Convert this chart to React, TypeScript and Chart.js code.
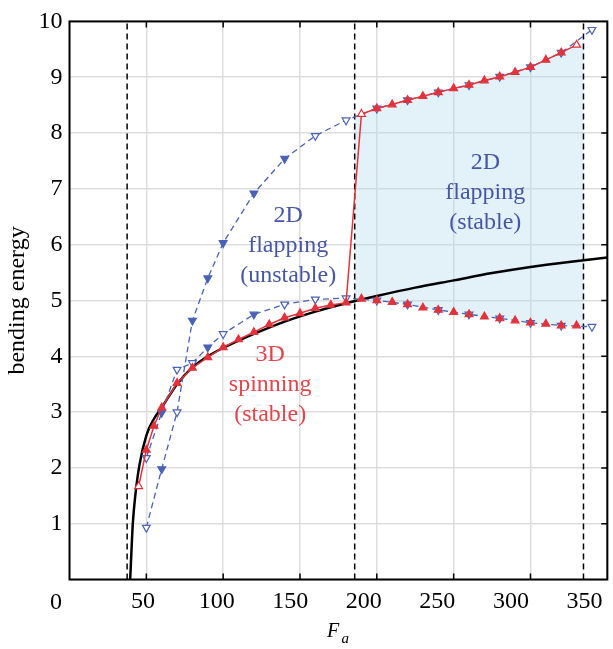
import React, { useEffect, useRef } from 'react';
import { Chart, registerables } from 'chart.js';

Chart.register(...registerables);

// ---- data (F_a on the data axis, bending energy) ----
const thresholdF = [37.5, 185.6, 334.5];

const blackF = [39.5, 40.3, 41.2, 42.8, 45.5, 50, 55, 60, 70, 80, 90, 100, 110, 120, 140, 160, 180, 200, 225, 250, 275, 300, 325, 350];
const blackE = [0, 0.5, 1.0, 1.5, 2.05, 2.58, 2.88, 3.08, 3.5, 3.8, 4.0, 4.15, 4.28, 4.4, 4.62, 4.8, 4.95, 5.08, 5.23, 5.36, 5.49, 5.6, 5.69, 5.77];

const spinF = [45, 50, 55, 60, 70, 80, 90, 100, 110, 120, 130, 140, 150, 160, 170, 180];
const spinE = [1.67, 2.32, 2.75, 3.08, 3.52, 3.79, 3.98, 4.16, 4.3, 4.43, 4.57, 4.69, 4.77, 4.86, 4.92, 4.96];
const spinOpen = [1, 0, 0, 0, 0, 0, 0, 0, 0, 0, 0, 0, 0, 0, 0, 0];

const stableF = [190, 200, 210, 220, 230, 240, 250, 260, 270, 280, 290, 300, 310, 320, 330];
const stableUpperE = [8.34, 8.44, 8.51, 8.59, 8.66, 8.73, 8.8, 8.86, 8.94, 9.01, 9.09, 9.18, 9.31, 9.44, 9.58];
const stableUpperOpen = [1, 0, 0, 0, 0, 0, 0, 0, 0, 0, 0, 0, 0, 0, 1];
const stableLowerE = [5.03, 5.0, 4.97, 4.93, 4.87, 4.83, 4.79, 4.75, 4.71, 4.68, 4.64, 4.6, 4.58, 4.55, 4.55];

const unstableF = [50, 60, 70, 80, 90, 100, 120, 140, 160, 180, 200, 220, 240, 260, 280, 300, 320, 340];
const unstableUpperE = [0.93, 1.98, 3.0, 4.64, 5.4, 6.03, 6.92, 7.54, 7.95, 8.23, 8.44, 8.59, 8.73, 8.86, 9.01, 9.18, 9.44, 9.85];
const unstableUpperOpen = [1, 0, 1, 0, 0, 0, 0, 0, 1, 1, 1, 1, 1, 1, 1, 1, 1, 1];
const unstableLowerE = [2.18, 2.99, 3.76, 3.88, 4.16, 4.4, 4.75, 4.93, 5.02, 5.04, 5.0, 4.93, 4.83, 4.75, 4.68, 4.6, 4.55, 4.53];
const unstableLowerOpen = [1, 0, 1, 1, 0, 1, 0, 1, 1, 1, 1, 1, 1, 1, 1, 1, 1, 1];

const shadeTopF = [185.6, 190, 200, 210, 220, 230, 240, 250, 260, 270, 280, 290, 300, 310, 320, 330, 334.5];
const shadeTopE = [8.3, 8.34, 8.44, 8.51, 8.59, 8.66, 8.73, 8.8, 8.86, 8.94, 9.01, 9.09, 9.18, 9.31, 9.44, 9.58, 9.62];
const shadeBottomF = [334.5, 330, 320, 310, 300, 290, 280, 270, 260, 250, 240, 230, 220, 210, 200, 190, 185.6];
const shadeBottomE = [4.54, 4.55, 4.55, 4.58, 4.6, 4.64, 4.68, 4.71, 4.75, 4.79, 4.83, 4.87, 4.93, 4.97, 5.0, 5.03, 5.03];

const xTickLabels = [0, 50, 100, 150, 200, 250, 300, 350];
const yTickLabels = [1, 2, 3, 4, 5, 6, 7, 8, 9, 10];

const annotations = [
  { lines: ['2D', 'flapping', '(unstable)'], color: '#4657a6', f: 142.3, e: 6.4 },
  { lines: ['3D', 'spinning', '(stable)'], color: '#e2454b', f: 130.6, e: 3.91 },
  { lines: ['2D', 'flapping', '(stable)'], color: '#4657a6', f: 270.6, e: 7.35 },
];

const RED = '#e3323a';
const BLUE = '#4a62b5';
const SERIF = '"Liberation Serif", "Times New Roman", serif';

const pts = (xs: number[], ys: number[]) => xs.map((x, i) => ({ x, y: ys[i] }));
const fills = (open: number[], c: string) => open.map((o) => (o ? '#ffffff' : c));

const decor = {
  id: 'decor',
  afterDraw(chart: any) {
    const { ctx, chartArea: a, scales } = chart;
    const x = scales.x;
    const y = scales.y;
    const xl = scales.xl;
    ctx.save();
    // annotations
    ctx.font = `24px ${SERIF}`;
    ctx.textAlign = 'center';
    ctx.textBaseline = 'alphabetic';
    annotations.forEach((an) => {
      ctx.fillStyle = an.color;
      const px = x.getPixelForValue(an.f);
      const py = y.getPixelForValue(an.e);
      an.lines.forEach((l, i) => ctx.fillText(l, px, py + i * 30));
    });
    // frame
    ctx.strokeStyle = '#000';
    ctx.lineWidth = 2;
    ctx.setLineDash([]);
    ctx.strokeRect(a.left, a.top, a.right - a.left, a.bottom - a.top);
    // inward ticks
    ctx.lineWidth = 1.5;
    ctx.beginPath();
    for (let v = 50; v < 350; v += 50) {
      const px = x.getPixelForValue(v);
      ctx.moveTo(px, a.top);
      ctx.lineTo(px, a.top + 6);
      ctx.moveTo(px, a.bottom);
      ctx.lineTo(px, a.bottom - 6);
    }
    for (let v = 1; v < 10; v++) {
      const py = y.getPixelForValue(v);
      ctx.moveTo(a.right, py);
      ctx.lineTo(a.right - 6, py);
    }
    ctx.stroke();
    // "0" corner label
    ctx.fillStyle = '#000';
    ctx.font = `24px ${SERIF}`;
    ctx.textAlign = 'center';
    ctx.fillText('0', xl.left - 13.5, 608.5);
    // axis title F_a
    const cx = (xl.left + xl.right) / 2;
    ctx.textAlign = 'left';
    ctx.font = `italic 20px ${SERIF}`;
    ctx.fillText('F', cx - 11.5, 637);
    ctx.font = `italic 15px ${SERIF}`;
    ctx.fillText('a', cx + 3, 643);
    ctx.restore();
  },
};

export default function App() {
  const ref = useRef<HTMLCanvasElement>(null);
  useEffect(() => {
    if (!ref.current) return;
    const shadePoly = [...pts(shadeTopF, shadeTopE), ...pts(shadeBottomF, shadeBottomE)];
    const common = { xAxisID: 'x', yAxisID: 'y' };
    const chart = new Chart(ref.current, {
      type: 'line',
      data: {
        datasets: [
          {
            ...common,
            data: [...pts(spinF, spinE), ...pts(stableF, stableUpperE)],
            borderColor: RED,
            borderWidth: 1.5,
            pointStyle: 'triangle',
            pointRadius: 4.5,
            pointBorderWidth: 1.2,
            pointBorderColor: RED,
            pointBackgroundColor: [...fills(spinOpen, RED), ...fills(stableUpperOpen, RED)],
            fill: false,
          },
          {
            ...common,
            data: pts(stableF, stableLowerE),
            showLine: false,
            pointStyle: 'triangle',
            pointRadius: 4.5,
            pointBorderWidth: 1.2,
            pointBorderColor: RED,
            pointBackgroundColor: RED,
          },
          {
            ...common,
            data: pts(unstableF, unstableUpperE),
            borderColor: BLUE,
            borderWidth: 1.3,
            borderDash: [6, 4],
            pointStyle: 'triangle',
            pointRotation: 180,
            pointRadius: 4.5,
            pointBorderWidth: 1.2,
            pointBorderColor: BLUE,
            pointBackgroundColor: fills(unstableUpperOpen, BLUE),
          },
          {
            ...common,
            data: pts(unstableF, unstableLowerE),
            borderColor: BLUE,
            borderWidth: 1.3,
            borderDash: [6, 4],
            pointStyle: 'triangle',
            pointRotation: 180,
            pointRadius: 4.5,
            pointBorderWidth: 1.2,
            pointBorderColor: BLUE,
            pointBackgroundColor: fills(unstableLowerOpen, BLUE),
          },
          {
            ...common,
            data: pts(blackF, blackE),
            borderColor: '#000',
            borderWidth: 2.5,
            pointRadius: 0,
            cubicInterpolationMode: 'monotone',
          },
          ...thresholdF.map((f) => ({
            ...common,
            data: [{ x: f, y: 0 }, { x: f, y: 10 }],
            borderColor: '#000',
            borderWidth: 1.5,
            borderDash: [6, 4],
            pointRadius: 0,
          })),
          {
            ...common,
            data: shadePoly,
            borderWidth: 0,
            borderColor: 'rgba(0,0,0,0)',
            backgroundColor: 'rgba(175,215,235,0.35)',
            pointRadius: 0,
            fill: 'shape',
          },
        ] as any,
      },
      options: {
        animation: false,
        responsive: false,
        devicePixelRatio: 1,
        events: [],
        layout: { padding: { top: 13, right: 3.5, left: 0, bottom: 0 } },
        plugins: { legend: { display: false }, tooltip: { enabled: false } },
        scales: {
          x: {
            type: 'linear',
            position: 'bottom',
            min: 0,
            max: 350,
            ticks: { display: false, stepSize: 50 },
            grid: { color: '#dddddd', lineWidth: 1.5, drawTicks: false },
            border: { display: false },
            afterFit: (s: any) => { s.height = 0; },
          },
          xl: {
            type: 'linear',
            axis: 'x',
            position: 'bottom',
            min: 0,
            max: 365.5,
            grid: { display: false },
            border: { display: false },
            ticks: {
              stepSize: 50,
              includeBounds: false,
              autoSkip: false,
              maxRotation: 0,
              padding: 0,
              color: '#000',
              font: { family: SERIF, size: 24 },
              callback: (v: any) => (xTickLabels.includes(v) && v !== 0 ? String(v) : ''),
            },
            afterFit: (s: any) => { s.height = 69.5; },
          },
          y: {
            type: 'linear',
            position: 'left',
            min: 0,
            max: 10,
            grid: { color: '#dddddd', lineWidth: 1.5, drawTicks: false },
            border: { display: false },
            ticks: {
              stepSize: 1,
              padding: 7,
              color: '#000',
              font: { family: SERIF, size: 24 },
              callback: (v: any) => (yTickLabels.includes(v) ? String(v) : ''),
            },
            title: {
              display: true,
              text: 'bending energy',
              color: '#000',
              font: { family: SERIF, size: 24 },
              padding: { top: 3, bottom: 0 },
            },
            afterFit: (s: any) => { s.width = 69.5; },
          },
        },
      } as any,
      plugins: [decor],
    });
    return () => chart.destroy();
  }, []);
  return (
    <div style={{ position: 'absolute', left: 0, top: 0, width: 613, height: 649, background: '#fff' }}>
      <canvas ref={ref} width={613} height={649} />
    </div>
  );
}
